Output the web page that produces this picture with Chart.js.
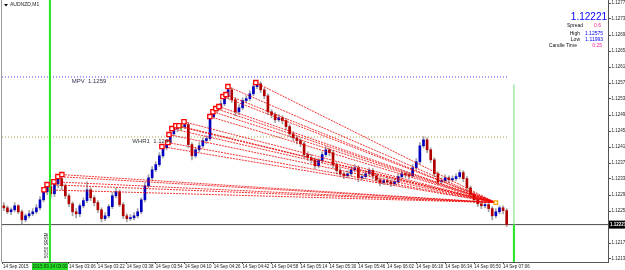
<!DOCTYPE html>
<html><head><meta charset="utf-8">
<script src="https://cdn.jsdelivr.net/npm/chart.js@4"></script>
<style>html,body{margin:0;padding:0;background:#fff;overflow:hidden}#wrap{width:625px;height:270px;position:relative}</style>
</head><body><div id="wrap"><canvas id="c" width="625" height="270"></canvas></div>
<script>
// ---- data (AUDNZD, M1, 14 Sep 2015) ----
const opens = [
1.12268,1.12263,1.12253,1.12258,1.12268,1.12253,1.12233,1.12243,1.12248,1.12253,
1.12263,1.12283,1.12303,1.12316,1.12298,1.12323,1.12336,1.12318,1.12293,1.12273,
1.12253,1.12248,1.12268,1.12281,1.12308,1.12288,1.12276,1.12258,1.12236,1.12243,
1.12266,1.12293,1.12303,1.12271,1.12243,1.12236,1.12238,1.12243,1.12253,1.12283,
1.12318,1.12338,1.12358,1.12371,1.12393,1.12413,1.12426,1.12448,1.12461,1.12466,
1.12466,1.12471,1.12421,1.12393,1.12408,1.12418,1.12431,1.12436,1.12491,1.12506,
1.12513,1.12523,1.12541,1.12558,1.12533,1.12503,1.12513,1.12531,1.12536,1.12548,
1.12566,1.12573,1.12558,1.12543,1.12503,1.12496,1.12483,1.12488,1.12481,1.12466,
1.12448,1.12438,1.12431,1.12423,1.12396,1.12388,1.12383,1.12368,1.12381,1.12396,
1.12408,1.12401,1.12371,1.12356,1.12348,1.12343,1.12348,1.12358,1.12363,1.12338,
1.12341,1.12348,1.12356,1.12343,1.12333,1.12326,1.12331,1.12328,1.12323,1.12328,
1.12341,1.12348,1.12346,1.12343,1.12363,1.12378,1.12418,1.12433,1.12408,1.12383,
1.12348,1.12328,1.12331,1.12338,1.12333,1.12336,1.12341,1.12351,1.12336,1.12313,
1.12296,1.12283,1.12273,1.12268,1.12271,1.12261,1.12243,1.12253,1.12263,1.12256];
const highs = [
1.12276,1.12268,1.12263,1.12276,1.12271,1.12258,1.12248,1.12256,1.12261,1.12271,
1.12291,1.12311,1.12323,1.12321,1.12331,1.12346,1.12341,1.12323,1.12298,1.12278,
1.12261,1.12273,1.12288,1.12328,1.12313,1.12293,1.12281,1.12263,1.12251,1.12271,
1.12301,1.12313,1.12308,1.12276,1.12248,1.12246,1.12251,1.12261,1.12288,1.12326,
1.12346,1.12366,1.12378,1.12401,1.12421,1.12433,1.12456,1.12468,1.12473,1.12473,
1.12481,1.12476,1.12426,1.12413,1.12426,1.12438,1.12443,1.12496,1.12513,1.12521,
1.12531,1.12548,1.12568,1.12563,1.12538,1.12521,1.12538,1.12543,1.12556,1.12573,
1.12576,1.12578,1.12563,1.12548,1.12508,1.12501,1.12496,1.12493,1.12486,1.12471,
1.12453,1.12443,1.12436,1.12428,1.12403,1.12396,1.12388,1.12386,1.12403,1.12416,
1.12413,1.12406,1.12376,1.12363,1.12353,1.12356,1.12366,1.12371,1.12368,1.12348,
1.12356,1.12363,1.12361,1.12348,1.12338,1.12336,1.12338,1.12333,1.12336,1.12348,
1.12356,1.12353,1.12351,1.12371,1.12386,1.12426,1.12441,1.12438,1.12413,1.12388,
1.12353,1.12338,1.12346,1.12343,1.12343,1.12348,1.12358,1.12356,1.12341,1.12318,
1.12301,1.12288,1.12278,1.12276,1.12276,1.12266,1.12261,1.12268,1.12268,1.12261];
const lows = [
1.12256,1.12248,1.12246,1.12253,1.12248,1.12223,1.12228,1.12238,1.12243,1.12248,
1.12258,1.12278,1.12296,1.12288,1.12291,1.12313,1.12308,1.12286,1.12266,1.12243,
1.12238,1.12241,1.12263,1.12276,1.12281,1.12268,1.12251,1.12228,1.12231,1.12238,
1.12261,1.12288,1.12266,1.12236,1.12228,1.12231,1.12233,1.12238,1.12248,1.12278,
1.12313,1.12333,1.12353,1.12366,1.12388,1.12408,1.12421,1.12443,1.12453,1.12458,
1.12461,1.12413,1.12383,1.12388,1.12403,1.12413,1.12423,1.12431,1.12486,1.12501,
1.12508,1.12518,1.12536,1.12526,1.12493,1.12496,1.12508,1.12526,1.12531,1.12543,
1.12561,1.12551,1.12536,1.12496,1.12488,1.12476,1.12478,1.12473,1.12458,1.12441,
1.12431,1.12423,1.12416,1.12388,1.12381,1.12376,1.12361,1.12363,1.12376,1.12391,
1.12393,1.12363,1.12348,1.12341,1.12336,1.12338,1.12343,1.12353,1.12328,1.12333,
1.12336,1.12343,1.12336,1.12326,1.12318,1.12321,1.12321,1.12316,1.12318,1.12323,
1.12336,1.12338,1.12336,1.12338,1.12358,1.12373,1.12413,1.12401,1.12376,1.12341,
1.12321,1.12323,1.12326,1.12326,1.12328,1.12331,1.12336,1.12328,1.12306,1.12288,
1.12276,1.12266,1.12261,1.12263,1.12253,1.12233,1.12238,1.12248,1.12248,1.12216];
const closes = [
1.12263,1.12253,1.12258,1.12268,1.12253,1.12233,1.12243,1.12248,1.12253,1.12263,
1.12283,1.12303,1.12316,1.12298,1.12323,1.12336,1.12318,1.12293,1.12273,1.12253,
1.12248,1.12268,1.12281,1.12308,1.12288,1.12276,1.12258,1.12236,1.12243,1.12266,
1.12293,1.12303,1.12271,1.12243,1.12236,1.12238,1.12243,1.12253,1.12283,1.12318,
1.12338,1.12358,1.12371,1.12393,1.12413,1.12426,1.12448,1.12461,1.12466,1.12466,
1.12471,1.12421,1.12393,1.12408,1.12418,1.12431,1.12436,1.12491,1.12506,1.12513,
1.12523,1.12541,1.12558,1.12533,1.12503,1.12513,1.12531,1.12536,1.12548,1.12566,
1.12573,1.12558,1.12543,1.12503,1.12496,1.12483,1.12488,1.12481,1.12466,1.12448,
1.12438,1.12431,1.12423,1.12396,1.12388,1.12383,1.12368,1.12381,1.12396,1.12408,
1.12401,1.12371,1.12356,1.12348,1.12343,1.12348,1.12358,1.12363,1.12338,1.12341,
1.12348,1.12356,1.12343,1.12333,1.12326,1.12331,1.12328,1.12323,1.12328,1.12341,
1.12348,1.12346,1.12343,1.12363,1.12378,1.12418,1.12433,1.12408,1.12383,1.12348,
1.12328,1.12331,1.12338,1.12333,1.12336,1.12341,1.12351,1.12336,1.12313,1.12296,
1.12283,1.12273,1.12268,1.12271,1.12261,1.12243,1.12253,1.12263,1.12256,1.12221];

// time axis (bar index units, 1 unit = 1 minute slot)
const timeTickPos = [0.5,37,53,69,85,101,117,133,149,165,181,197,213,229,245,261,277];
const timeLabels = ["14 Sep 2015","14 Sep 03:06","14 Sep 03:22","14 Sep 03:38","14 Sep 03:54","14 Sep 04:10",
  "14 Sep 04:26","14 Sep 04:42","14 Sep 04:58","14 Sep 05:14","14 Sep 05:30","14 Sep 05:46","14 Sep 06:02",
  "14 Sep 06:18","14 Sep 06:34","14 Sep 06:50","14 Sep 07:06"];
const priceTicks = [1.12775,1.12735,1.12695,1.12655,1.12615,1.12575,1.12535,1.12495,1.12455,1.12415,
  1.12375,1.12335,1.12295,1.12255,1.12215,1.12175,1.12135];

// swing-high markers and fan target
const markX = [23.2,24.9,28.7,30.9,33.1,88.4,91.7,92.3,93.9,96.1,97.8,100.6,114.9,116.6,118.2,119.9,122.1,123.8,124.9,140.3];
const markP = [1.12308,1.12321,1.12328,1.12341,1.12346,1.12416,1.12426,1.12446,1.12461,1.12468,1.12468,1.12478,
  1.12491,1.12503,1.12511,1.12516,1.12541,1.12546,1.12566,1.12576];
const fanEndX = [273];
const fanEndP = [1.12276];

// levels
const mpvLevel = 1.1259;
const whrLevel = 1.1244;
const bidPrice = 1.12221;
const dayHigh = 1.12575, dayLow = 1.11993, spread = "0.6", candleTime = "0:25";
const vLine1X = 26.5, vLine2X = 283, vLine2Top = 1.12571;
const levelEndX = 280;

const X_MIN = 0, X_MAX = 335, Y_MIN = 1.121275, Y_MAX = 1.127825;

// ---- build datasets ----
const candleX = opens.map((_, i) => 1 + 2 * i);
const colorOf = i => closes[i] > opens[i] ? '#0000c0' : (closes[i] < opens[i] ? '#b00000' : '#30e030');
const wickColors = opens.map((_, i) => closes[i] === opens[i] ? '#30e030' : '#a4a4a4');
const datasets = [];

datasets.push({type:'line', data:[{x:X_MIN,y:bidPrice},{x:X_MAX,y:bidPrice}], borderColor:'#4a4a4a', borderWidth:1, pointRadius:0, order:9});
datasets.push({type:'line', data:[{x:X_MIN,y:mpvLevel},{x:levelEndX,y:mpvLevel}], borderColor:'#4b4bff', borderWidth:1, borderDash:[1,2], pointRadius:0, order:9});
datasets.push({type:'line', data:[{x:X_MIN,y:whrLevel},{x:levelEndX,y:whrLevel}], borderColor:'#a89a3a', borderWidth:1, borderDash:[1,2], pointRadius:0, order:9});

datasets.push({type:'bar', data:candleX.map((x,i)=>({x, y:[lows[i], highs[i]]})), backgroundColor:wickColors, barThickness:1, grouped:false, order:7});
datasets.push({type:'bar', data:candleX.map((x,i)=>({x, y:[opens[i], closes[i]]})), backgroundColor:opens.map((_,i)=>colorOf(i)), barThickness:2, minBarLength:1, grouped:false, order:6});

markX.forEach((x, i) => {
  datasets.push({type:'line', data:[{x, y:markP[i]},{x:fanEndX[0], y:fanEndP[0]}], borderColor:'rgba(240,0,0,0.8)', borderWidth:1, borderDash:[2,1], pointRadius:0, order:3});
});
datasets.push({type:'scatter', data:markX.map((x,i)=>({x, y:markP[i]})), pointStyle:'rect', pointRadius:3, borderColor:'#ff0000', backgroundColor:'#ffffff', borderWidth:1.3, order:1});
datasets.push({type:'scatter', data:fanEndX.map((x,i)=>({x, y:fanEndP[i]})), pointStyle:'rect', pointRadius:2.5, borderColor:'#ffa000', backgroundColor:'#ffffff', borderWidth:1.3, order:1});

datasets.push({type:'line', data:[{x:vLine1X,y:Y_MAX},{x:vLine1X,y:Y_MIN}], borderColor:'#22e822', borderWidth:2, pointRadius:0, order:2});
datasets.push({type:'line', data:[{x:vLine2X,y:vLine2Top},{x:vLine2X,y:bidPrice}], borderColor:'#9ee89e', borderWidth:1.5, pointRadius:0, order:2});
datasets.push({type:'line', data:[{x:vLine2X,y:bidPrice},{x:vLine2X,y:Y_MIN}], borderColor:'#22e822', borderWidth:2, pointRadius:0, order:2});

const FONT = 'Liberation Sans, Arial, sans-serif';

// pin the plot frame to the MT4 window geometry
const frame = {
  id:'frame',
  afterLayout(chart){
    const xs = chart.scales.x, ys = chart.scales.y;
    Object.assign(ys, {top:0, bottom:262, height:262, left:608, right:625, width:17});
    Object.assign(xs, {left:2, right:608, width:606, top:262, bottom:270, height:8});
    ys.configure(); xs.configure();
    Object.assign(chart.chartArea, {left:2, top:0, right:608, bottom:262, width:606, height:262});
  }
};

const overlay = {
  id:'overlay',
  afterDraw(chart){
    const {ctx, scales:{x, y}} = chart;
    ctx.save();
    ctx.strokeStyle = '#9a9a9a'; ctx.lineWidth = 1;
    ctx.beginPath(); ctx.moveTo(1.5, 0); ctx.lineTo(1.5, 262); ctx.stroke();
    ctx.fillStyle = '#000';
    ctx.beginPath(); ctx.moveTo(4,4); ctx.lineTo(8,4); ctx.lineTo(6,6.5); ctx.closePath(); ctx.fill();
    ctx.font = '5px ' + FONT; ctx.textBaseline = 'middle'; ctx.textAlign = 'left';
    ctx.fillStyle = '#222';
    ctx.fillText('AUDNZD,M1', 10, 5);
    ctx.font = '6px ' + FONT; ctx.fillStyle = '#2e3050';
    ctx.fillText('MPV  ' + mpvLevel.toFixed(4), x.getPixelForValue(38.5), y.getPixelForValue(mpvLevel) + 4);
    ctx.fillStyle = '#3a3a3a';
    ctx.fillText('WHR1  ' + whrLevel.toFixed(4), x.getPixelForValue(72), y.getPixelForValue(whrLevel) + 4);
    ctx.textAlign = 'right'; ctx.textBaseline = 'alphabetic';
    ctx.font = '10px ' + FONT; ctx.fillStyle = '#0000ff';
    ctx.fillText(bidPrice.toFixed(5), 607, 20);
    ctx.font = '5px ' + FONT;
    ctx.fillStyle = '#111'; ctx.fillText('Spread', 583, 27);
    ctx.fillStyle = '#ff2090'; ctx.fillText(spread, 601, 27);
    ctx.fillStyle = '#111'; ctx.fillText('High', 580, 34.5);
    ctx.fillStyle = '#0000ff'; ctx.fillText(dayHigh.toFixed(5), 603, 34.5);
    ctx.fillStyle = '#111'; ctx.fillText('Low', 580, 40.5);
    ctx.fillStyle = '#0000ff'; ctx.fillText(dayLow.toFixed(5), 603, 40.5);
    ctx.fillStyle = '#111'; ctx.fillText('Candle Time', 577, 47);
    ctx.fillStyle = '#ff2090'; ctx.fillText(candleTime, 602, 47);
    const by = y.getPixelForValue(bidPrice);
    ctx.fillStyle = '#000'; ctx.fillRect(609, by - 4, 16, 8);
    ctx.fillStyle = '#fff'; ctx.textAlign = 'left'; ctx.textBaseline = 'middle';
    ctx.font = 'bold 4.5px ' + FONT; ctx.fillText(bidPrice.toFixed(5), 610, by);
    const gx = x.getPixelForValue(vLine1X);
    ctx.fillStyle = '#22dd22'; ctx.fillRect(gx - 18, 263, 36, 7);
    ctx.fillStyle = '#103010'; ctx.textAlign = 'center'; ctx.font = '4.5px ' + FONT;
    ctx.fillText('2015.09.14 03:00', gx, 266.5);
    ctx.translate(gx - 3.5, 258); ctx.rotate(-Math.PI / 2);
    ctx.fillStyle = '#222'; ctx.textAlign = 'left'; ctx.font = '4.5px ' + FONT;
    ctx.fillText('50/50 SRSM', 0, 0);
    ctx.restore();
  }
};

new Chart(document.getElementById('c'), {
  type:'bar',
  data:{datasets},
  options:{
    responsive:false, animation:false, maintainAspectRatio:false,
    layout:{padding:{left:2, top:0, right:0, bottom:0}},
    plugins:{legend:{display:false}, tooltip:{enabled:false}},
    scales:{
      x:{type:'linear', min:X_MIN, max:X_MAX, offset:false,
        grid:{display:true, offset:false, drawOnChartArea:false, drawTicks:true, tickLength:2, tickColor:'#555'},
        border:{display:true, color:'#555'},
        ticks:{autoSkip:false, maxRotation:0, minRotation:0, align:'start', padding:0, color:'#222',
          font:{size:4.5, family:FONT}, callback:(v, i) => timeLabels[i]},
        afterBuildTicks:s => { s.ticks = timeTickPos.map(v => ({value:v})); },
        afterFit:s => { s.height = 8; s.paddingLeft = 0; s.paddingRight = 0; }
      },
      y:{type:'linear', position:'right', min:Y_MIN, max:Y_MAX,
        grid:{display:true, drawOnChartArea:false, drawTicks:true, tickLength:3, tickColor:'#555'},
        border:{display:true, color:'#555'},
        ticks:{padding:0.5, color:'#222', font:{size:4.5, family:FONT}, callback:v => v.toFixed(5)},
        afterBuildTicks:s => { s.ticks = priceTicks.map(v => ({value:v})); },
        afterFit:s => { s.width = 17; s.paddingTop = 0; s.paddingBottom = 0; }
      }
    }
  },
  plugins:[frame, overlay]
});
</script>
</body></html>
